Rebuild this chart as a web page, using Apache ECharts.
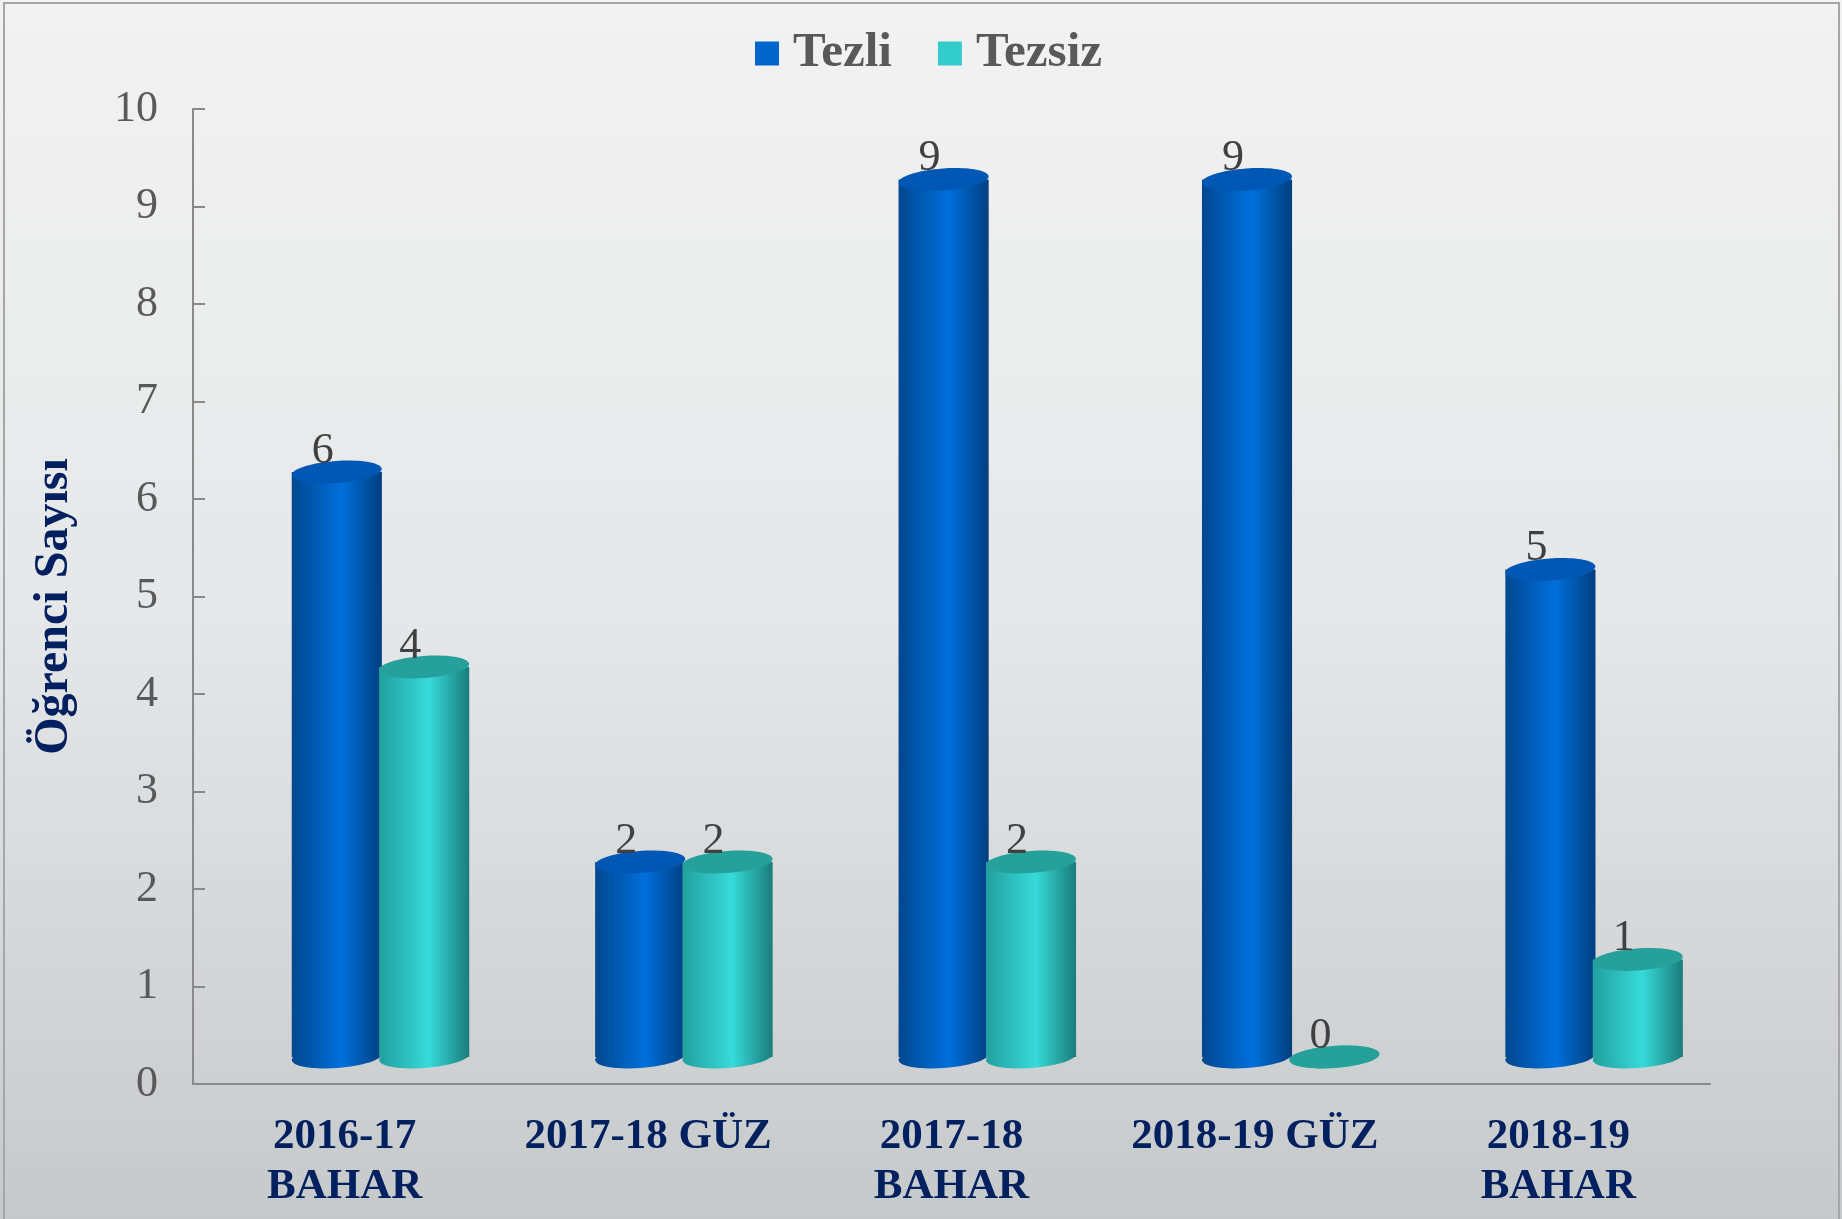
<!DOCTYPE html>
<html>
<head>
<meta charset="utf-8">
<title>Öğrenci Sayısı</title>
<script src="https://cdn.jsdelivr.net/npm/echarts@6/dist/echarts.min.js"></script>
<style>
  html, body { margin: 0; padding: 0; }
  #chart { width: 1842px; height: 1219px; }
</style>
</head>
<body>
<div id="chart"></div>
<script>
// veriler
const categories = ['2016-17\nBAHAR', '2017-18 GÜZ', '2017-18\nBAHAR', '2018-19 GÜZ', '2018-19\nBAHAR'];
const tezli = [6, 2, 9, 9, 5];
const tezsiz = [4, 2, 2, 0, 1];
const seriesNames = ['Tezli', 'Tezsiz'];

const SERIF = '"Liberation Serif", "Times New Roman", serif';
// 3B görünüm için kaydırma (px)
const DEPTH = -27;

// silindir çizimi
function cylinder(offsetFrac, body, topColor) {
  return function (params, api) {
    const i = api.value(0);
    const v = api.value(1);
    const band = api.size([1, 0])[0];
    const p0 = api.coord([i, 0]);
    const p1 = api.coord([i, v]);
    const w = band * 0.297;
    const rx = w / 2;
    const ry = 11;
    const cx = p0[0] + band * offsetFrac;
    const yb = p0[1] + DEPTH;
    const yt = p1[1] + DEPTH;
    const grad = {
      type: 'linear', x: 0, y: 0, x2: 1, y2: 0,
      colorStops: [
        { offset: 0, color: body[0] },
        { offset: 0.55, color: body[1] },
        { offset: 1, color: body[2] }
      ]
    };
    return {
      type: 'group',
      children: [
        { type: 'ellipse', x: cx, y: yb, rotation: 0.07, shape: { cx: 0, cy: 0, rx: rx, ry: ry }, style: { fill: grad } },
        { type: 'rect', shape: { x: cx - rx, y: yt, width: w, height: Math.max(yb - yt, 0) }, style: { fill: grad } },
        { type: 'ellipse', x: cx, y: yt, rotation: 0.07, shape: { cx: 0, cy: 0, rx: rx, ry: ry }, style: { fill: topColor } },
        {
          type: 'text', x: cx - 14, y: yt + 1,
          style: { text: String(v), fill: '#404040', font: '44px ' + SERIF, align: 'center', verticalAlign: 'bottom' }
        }
      ]
    };
  };
}

const chart = echarts.init(document.getElementById('chart'));

const option = {
  backgroundColor: {
    type: 'linear', x: 0, y: 0, x2: 0, y2: 1,
    colorStops: [
      { offset: 0, color: '#f2f2f2' },
      { offset: 0.5, color: '#e6e7e8' },
      { offset: 1, color: '#c6c9ca' }
    ]
  },
  graphic: [
    {
      type: 'rect', silent: true,
      shape: { x: 4, y: 3, width: 1835, height: 1240 },
      style: { fill: 'none', stroke: '#a6a6a6', lineWidth: 2 }
    }
  ],
  legend: {
    data: seriesNames,
    left: 750,
    top: 24,
    icon: 'rect',
    itemWidth: 24,
    itemHeight: 24,
    itemGap: 46,
    textStyle: { fontFamily: SERIF, fontSize: 49, fontWeight: 'bold', color: '#595959', padding: [0, 0, 0, 9] }
  },
  grid: { left: 193, right: 132, top: 109, bottom: 135 },
  xAxis: {
    type: 'category',
    data: categories,
    axisLine: { lineStyle: { color: '#898989', width: 2 } },
    axisTick: { inside: true, length: 12, lineStyle: { color: '#898989', width: 2 } },
    axisLabel: {
      interval: 0, margin: 28, lineHeight: 50,
      fontFamily: SERIF, fontSize: 43, fontWeight: 'bold', color: '#002060'
    }
  },
  yAxis: {
    type: 'value',
    min: 0, max: 10, interval: 1,
    name: 'Öğrenci Sayısı',
    nameLocation: 'middle',
    nameRotate: 90,
    nameGap: 114,
    nameTextStyle: { fontFamily: SERIF, fontSize: 48, fontWeight: 'bold', color: '#002060', padding: [0, 20, 0, 0] },
    axisLine: { show: true, lineStyle: { color: '#898989', width: 2 } },
    axisTick: { show: true, inside: true, length: 12, lineStyle: { color: '#898989', width: 2 } },
    splitLine: { show: false },
    axisLabel: { margin: 35, fontFamily: SERIF, fontSize: 44, color: '#595959' }
  },
  series: [
    {
      name: 'Tezli',
      type: 'custom',
      itemStyle: { color: '#0066cc' },
      renderItem: cylinder(-0.026, ['#00478f', '#0070dc', '#003f80'], '#0058b4'),
      data: tezli.map((v, i) => [i, v]),
      encode: { x: 0, y: 1 }
    },
    {
      name: 'Tezsiz',
      type: 'custom',
      itemStyle: { color: '#33cccc' },
      renderItem: cylinder(0.262, ['#21a09e', '#37dada', '#1a7d7b'], '#26a09b'),
      data: tezsiz.map((v, i) => [i, v]),
      encode: { x: 0, y: 1 }
    }
  ]
};

chart.setOption(option);
</script>
</body>
</html>
